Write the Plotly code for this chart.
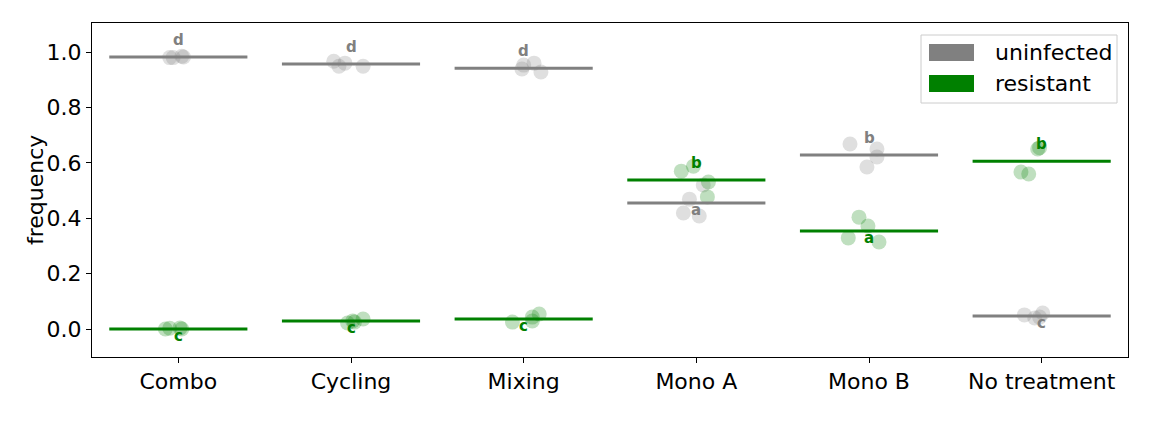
import plotly.graph_objects as go

categories = ["Combo", "Cycling", "Mixing", "Mono A", "Mono B", "No treatment"]

# mean lines
uninf_mean = [0.982, 0.957, 0.942, 0.455, 0.628, 0.047]
resist_mean = [0.000, 0.029, 0.036, 0.538, 0.354, 0.606]

# replicate values (4 per category) and their jitter offsets (category units)
uninf_vals = [
    [0.980, 0.980, 0.985, 0.982],
    [0.967, 0.949, 0.960, 0.949],
    [0.953, 0.960, 0.928, 0.939],
    [0.520, 0.469, 0.419, 0.408],
    [0.668, 0.650, 0.621, 0.585],
    [0.051, 0.040, 0.058, 0.043],
]
uninf_jit = [
    [-0.05, -0.03, 0.02, 0.03],
    [-0.10, -0.07, -0.035, 0.07],
    [0.00, 0.06, 0.10, -0.01],
    [0.04, -0.04, -0.075, 0.017],
    [-0.11, 0.046, 0.046, -0.012],
    [-0.10, -0.04, 0.006, -0.012],
]
resist_vals = [
    [0.000, 0.003, 0.004, 0.000],
    [0.022, 0.029, 0.036, 0.025],
    [0.025, 0.029, 0.054, 0.043],
    [0.570, 0.588, 0.531, 0.477],
    [0.404, 0.372, 0.329, 0.314],
    [0.650, 0.655, 0.567, 0.560],
]
resist_jit = [
    [-0.075, -0.05, 0.01, 0.02],
    [-0.02, 0.01, 0.07, 0.02],
    [-0.065, 0.05, 0.09, 0.05],
    [-0.087, -0.017, 0.07, 0.064],
    [-0.058, -0.006, -0.12, 0.058],
    [-0.023, -0.012, -0.12, -0.075],
]

# significance letters
uninf_letters = ["d", "d", "d", "a", "b", "c"]
resist_letters = ["c", "c", "c", "b", "a", "b"]

series_names = ["uninfected", "resistant"]

GREY = "#808080"
GREEN = "#008000"
FONT = "DejaVu Sans"

W, H = 1152, 432
ML, MR, MT, MB = 92, 24, 23, 75
PW, PH = W - ML - MR, H - MT - MB

def px_x(p):
    return (p - ML) / PW

def px_y(p):
    return 1 - (p - MT) / PH

fig = go.Figure()

def add_points(vals, jit, color):
    xs, ys = [], []
    for i, (v, j) in enumerate(zip(vals, jit)):
        for vv, jj in zip(v, j):
            xs.append(i + jj)
            ys.append(vv)
    fig.add_trace(go.Scatter(x=xs, y=ys, mode="markers", showlegend=False,
                             marker=dict(size=15, color=color, opacity=0.25,
                                         line=dict(width=0)),
                             hoverinfo="skip"))

def add_means(means, color, name):
    xs, ys = [], []
    for i, m in enumerate(means):
        xs += [i - 0.4, i + 0.4, None]
        ys += [m, m, None]
    fig.add_trace(go.Scatter(x=xs, y=ys, mode="lines", showlegend=False,
                             name=name, line=dict(color=color, width=3)))

add_points(uninf_vals, uninf_jit, GREY)
add_points(resist_vals, resist_jit, GREEN)
add_means(uninf_mean, GREY, series_names[0])
add_means(resist_mean, GREEN, series_names[1])

# letters
for i in range(len(categories)):
    for means, other, letters, color in [
        (uninf_mean, resist_mean, uninf_letters, GREY),
        (resist_mean, uninf_mean, resist_letters, GREEN),
    ]:
        above = means[i] >= other[i]
        fig.add_annotation(x=i, y=means[i], text="<b>%s</b>" % letters[i],
                           showarrow=False, xanchor="center",
                           yanchor="bottom" if above else "top",
                           yshift=6 if above else 4,
                           font=dict(family=FONT, size=15, color=color))

# legend (matplotlib-style patches)
shapes = [dict(type="rect", xref="paper", yref="paper",
               x0=px_x(921), x1=px_x(1117), y0=px_y(103), y1=px_y(35),
               line=dict(color="#cccccc", width=1), fillcolor="white",
               layer="above")]
for k, (name, color) in enumerate(zip(series_names, [GREY, GREEN])):
    top = 44 + 31 * k
    shapes.append(dict(type="rect", xref="paper", yref="paper",
                       x0=px_x(929), x1=px_x(974), y0=px_y(top + 17), y1=px_y(top),
                       line=dict(width=0), fillcolor=color, layer="above"))
    fig.add_annotation(xref="paper", yref="paper", x=px_x(993), y=px_y(top + 8.5),
                       xanchor="left", yanchor="middle", showarrow=False,
                       text=name, font=dict(family=FONT, size=22, color="black"))

# y-axis title
fig.add_annotation(xref="paper", yref="paper", x=px_x(35), y=0.5,
                   text="frequency", textangle=-90, showarrow=False,
                   xanchor="center", yanchor="middle",
                   font=dict(family=FONT, size=22, color="black"))

fig.update_layout(
    width=W, height=H,
    margin=dict(l=ML, r=MR, t=MT, b=MB),
    paper_bgcolor="white", plot_bgcolor="white",
    font=dict(family=FONT, size=22, color="black"),
    showlegend=False,
    shapes=shapes,
    xaxis=dict(range=[-0.5, 5.5], tickvals=list(range(len(categories))),
               ticktext=categories, showgrid=False, zeroline=False,
               showline=True, linecolor="black", linewidth=1, mirror=True,
               ticks="outside", ticklen=5, tickcolor="black"),
    yaxis=dict(range=[-0.101, 1.105], tickvals=[0, 0.2, 0.4, 0.6, 0.8, 1.0],
               tickformat=".1f", showgrid=False, zeroline=False,
               showline=True, linecolor="black", linewidth=1, mirror=True,
               ticks="outside", ticklen=5, tickcolor="black"),
)

fig.write_html("out.html")
